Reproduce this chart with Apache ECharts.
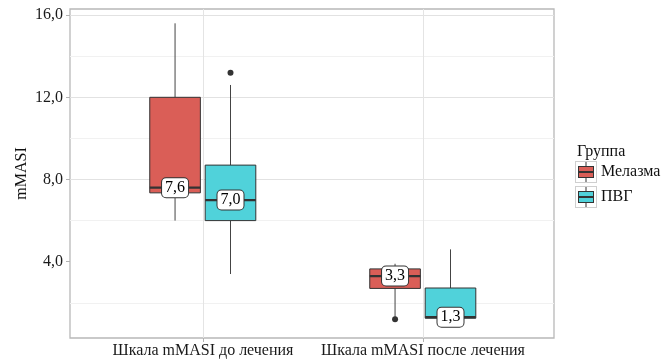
<!DOCTYPE html>
<html>
<head>
<meta charset="utf-8">
<script src="https://cdn.jsdelivr.net/npm/echarts@6/dist/echarts.min.js"></script>
<style>html,body{margin:0;padding:0;background:#fff;}#c{width:664px;height:360px;}</style>
</head>
<body>
<div id="c"></div>
<script>
const categories = ['Шкала mMASI до лечения', 'Шкала mMASI после лечения'];
const groups = ['Мелазма', 'ПВГ'];
// [min, Q1, median, Q3, max] per category
const melasmaBox = [[6.0, 7.35, 7.6, 12.0, 15.6], [1.3, 2.7, 3.3, 3.65, 3.9]];
const pvgBox = [[3.4, 6.0, 7.0, 8.7, 12.6], [1.25, 1.25, 1.3, 2.72, 4.6]];
const melasmaOutliers = [[1, 1.2]];
const pvgOutliers = [[0, 13.2]];
const yTicks = [4, 8, 12, 16];
const colors = ['#DA5E57', '#50D2DA'];

const FONT = '"Liberation Serif", "Times New Roman", serif';

function keyIcon(color) {
  const svg = "<svg xmlns='http://www.w3.org/2000/svg' width='22' height='22'>" +
    "<rect x='0.5' y='0.5' width='21' height='21' fill='white' stroke='#cfcfcf'/>" +
    "<line x1='11' y1='1' x2='11' y2='21' stroke='#333' stroke-width='1'/>" +
    "<rect x='3.5' y='5.5' width='15' height='11' fill='" + color + "' stroke='#333' stroke-width='1'/>" +
    "<line x1='3.5' y1='11' x2='18.5' y2='11' stroke='#333' stroke-width='2'/></svg>";
  return 'image://data:image/svg+xml;charset=utf-8,' + encodeURIComponent(svg);
}

function fmt(v) { return (Math.round(v * 10) / 10).toFixed(1).replace('.', ','); }

function boxRender(offFrac, color) {
  return function (params, api) {
    const cat = api.value(0);
    const band = api.coord([1, 0])[0] - api.coord([0, 0])[0];
    const cx = api.coord([cat, 0])[0] + offFrac * band;
    const hw = 0.115 * band;
    const y = v => api.coord([cat, v])[1];
    const ymin = y(api.value(1)), yq1 = y(api.value(2)), ymed = y(api.value(3)), yq3 = y(api.value(4)), ymax = y(api.value(5));
    return {
      type: 'group',
      children: [
        { type: 'line', shape: { x1: cx, y1: ymax, x2: cx, y2: yq3 }, style: { stroke: '#444', lineWidth: 1 } },
        { type: 'line', shape: { x1: cx, y1: yq1, x2: cx, y2: ymin }, style: { stroke: '#444', lineWidth: 1 } },
        { type: 'rect', shape: { x: cx - hw, y: yq3, width: 2 * hw, height: yq1 - yq3 }, style: { fill: color, stroke: '#333', lineWidth: 1 } },
        { type: 'line', shape: { x1: cx - hw, y1: ymed, x2: cx + hw, y2: ymed }, style: { stroke: '#333', lineWidth: 2.2 } },
        { type: 'text', z2: 10, style: { text: fmt(api.value(3)), x: cx, y: ymed, align: 'center', verticalAlign: 'middle',
          font: '16px ' + FONT, fill: '#000', backgroundColor: '#fff', borderColor: '#333', borderWidth: 1, borderRadius: 4, padding: [2, 3, 1, 3] } }
      ]
    };
  };
}

function outlierRender(offFrac) {
  return function (params, api) {
    const cat = api.value(0);
    const band = api.coord([1, 0])[0] - api.coord([0, 0])[0];
    const p = api.coord([cat, api.value(1)]);
    return { type: 'circle', shape: { cx: p[0] + offFrac * band, cy: p[1], r: 3 }, style: { fill: '#333' } };
  };
}

const chart = echarts.init(document.getElementById('c'), null, { renderer: 'canvas' });
chart.setOption({
  animation: false,
  backgroundColor: '#fff',
  title: { text: 'Группа', left: 577, top: 144, padding: 0, textStyle: { fontFamily: FONT, fontSize: 16, fontWeight: 'normal', color: '#111' } },
  legend: {
    orient: 'vertical', left: 575, top: 161, padding: 0, itemWidth: 22, itemHeight: 22, itemGap: 3,
    textStyle: { fontFamily: FONT, fontSize: 16, color: '#111', padding: [0, 0, 0, -1] },
    data: [{ name: groups[0], icon: keyIcon(colors[0]) }, { name: groups[1], icon: keyIcon(colors[1]) }]
  },
  grid: [
    { left: 70, right: 110, top: 9, bottom: 22, show: true, borderColor: '#b8b8b8', borderWidth: 1.3, backgroundColor: 'transparent' },
    { left: 203, right: 241, top: 9, bottom: 22 },
    { left: 70, right: 110, top: 15.1, bottom: 16.1 }
  ],
  xAxis: [
    { gridIndex: 0, type: 'value', show: false },
    { gridIndex: 1, type: 'category', data: categories, boundaryGap: false,
      axisLine: { show: false },
      axisTick: { show: true, interval: 0, length: 4, lineStyle: { color: '#b3b3b3' } },
      axisLabel: { interval: 0, showMinLabel: true, showMaxLabel: true, fontFamily: FONT, fontSize: 16, color: '#1a1a1a', margin: 5 },
      splitLine: { show: true, interval: 0, lineStyle: { color: '#e4e4e4', width: 1 } } },
    { gridIndex: 2, type: 'value', show: false }
  ],
  yAxis: [
    { gridIndex: 0, type: 'value', min: 0.287, max: 16.297, name: 'mMASI', nameLocation: 'middle', nameGap: 40,
      nameTextStyle: { fontFamily: FONT, fontSize: 16, color: '#111' },
      axisLine: { show: false }, axisTick: { show: false }, axisLabel: { show: false }, splitLine: { show: false } },
    { gridIndex: 1, type: 'value', min: 0.287, max: 16.297, show: false, splitLine: { show: false } },
    { gridIndex: 2, type: 'value', min: 0, max: 16, interval: 4,
      axisLine: { show: false },
      axisTick: { show: true, length: 4, customValues: yTicks, lineStyle: { color: '#b3b3b3' } },
      axisLabel: { customValues: yTicks, fontFamily: FONT, fontSize: 16, color: '#1a1a1a', margin: 7,
        formatter: v => v === 0 ? '' : fmt(v) },
      splitLine: { show: true, showMinLine: false, lineStyle: { color: '#e2e2e2', width: 1 } },
      minorTick: { show: false, splitNumber: 2 },
      minorSplitLine: { show: true, lineStyle: { color: '#f1f1f1', width: 1 } } }
  ],
  series: [
    { name: groups[0], type: 'custom', xAxisIndex: 1, yAxisIndex: 1, clip: false, renderItem: boxRender(-0.127, colors[0]),
      encode: { x: 0, y: [1, 2, 3, 4, 5] }, itemStyle: { color: colors[0] },
      data: melasmaBox.map((b, i) => [i].concat(b)) },
    { name: groups[1], type: 'custom', xAxisIndex: 1, yAxisIndex: 1, clip: false, renderItem: boxRender(0.125, colors[1]),
      encode: { x: 0, y: [1, 2, 3, 4, 5] }, itemStyle: { color: colors[1] },
      data: pvgBox.map((b, i) => [i].concat(b)) },
    { name: groups[0], type: 'custom', xAxisIndex: 1, yAxisIndex: 1, clip: false, renderItem: outlierRender(-0.127),
      encode: { x: 0, y: 1 }, itemStyle: { color: colors[0] }, data: melasmaOutliers },
    { name: groups[1], type: 'custom', xAxisIndex: 1, yAxisIndex: 1, clip: false, renderItem: outlierRender(0.125),
      encode: { x: 0, y: 1 }, itemStyle: { color: colors[1] }, data: pvgOutliers }
  ]
});
</script>
</body>
</html>
